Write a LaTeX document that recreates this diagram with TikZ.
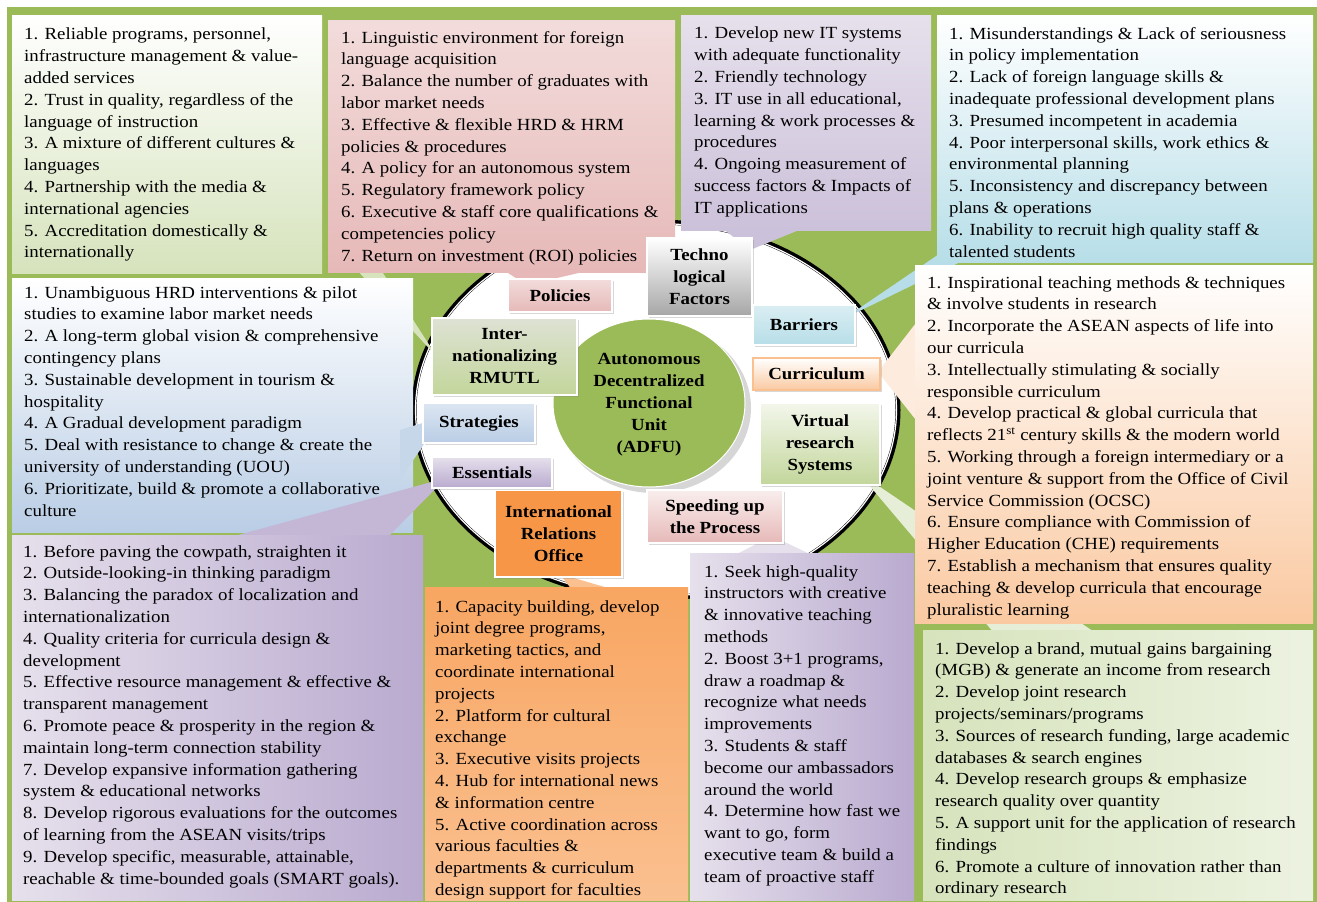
\documentclass[tikz,border=0pt]{standalone}
\usepackage{fontspec}
\setmainfont{Liberation Serif}[FakeStretch=1.11]
\usetikzlibrary{shadows}

\definecolor{bggreen}{HTML}{9BBB59}
\definecolor{grnlt}{HTML}{D6E3BC}
\definecolor{grnmd}{HTML}{C3D69B}
\definecolor{pinktop}{HTML}{F2DCDB}
\definecolor{pinklt}{HTML}{E6B9B8}
\definecolor{purtop}{HTML}{E6E0EC}
\definecolor{purlt}{HTML}{CCC1DA}
\definecolor{purdk}{HTML}{B9AACF}
\definecolor{cyanlt}{HTML}{B7DEE8}
\definecolor{cyantop}{HTML}{DAEEF3}
\definecolor{bluelt}{HTML}{B9CDE5}
\definecolor{bluetop}{HTML}{DCE6F2}
\definecolor{peach}{HTML}{FAC9A1}
\definecolor{orng}{HTML}{F79646}
\definecolor{orlt}{HTML}{FAC090}
\definecolor{graylt}{HTML}{A6A6A6}

\tikzset{
	txt/.style={anchor=north west, inner sep=0pt, align=left, font=\fontsize{17}{21.8}\selectfont},
	lbl/.style={draw=white, line width=1.2pt, inner sep=0pt, align=center,
		font=\fontsize{17}{22}\selectfont\bfseries,
		drop shadow={opacity=0.3, shadow xshift=2pt, shadow yshift=-2pt}},
}

\begin{document}
\begin{tikzpicture}[x=1pt, y=-1pt]
			%%%%% START %%%%%
			\useasboundingbox (0, 0) rectangle (1317, 902);
			\fill[bggreen] (7, 7) rectangle (1317, 902);
			
			% ring and core
			\fill[white] (656, 410) ellipse [x radius=242, y radius=188];
			\draw[line width=5pt] (656, 410) ellipse [x radius=242, y radius=188];
			\draw[white, line width=1.2pt] (656, 410) ellipse [x radius=240.5, y radius=186.5];
			\fill[gray!45, opacity=0.7] (654, 408) ellipse [x radius=97, y radius=85];
			\draw[fill=bggreen, draw=white, line width=1pt] (649, 403) ellipse [x radius=96, y radius=84];
			\node[align=center, font=\fontsize{17}{22}\selectfont\bfseries] (adfu) at (649, 405)
				{Autonomous\\Decentralized\\Functional\\Unit\\(ADFU)};
			
			% top row
			\fill[grnlt] (344, 256) -- (372, 256) -- (437, 357) -- cycle;
			\fill[top color=white, bottom color=grnlt] (12, 15) rectangle (322, 273);
			\node[txt] (intlist) at (24, 28) {1. Reliable programs, personnel,\\infrastructure management \& value-\\added services\\2. Trust in quality, regardless of the\\language of instruction\\3. A mixture of different cultures \&\\languages\\4. Partnership with the media \&\\international agencies\\5. Accreditation domestically \&\\internationally};
			
			\fill[pinklt] (500, 268) -- (600, 268) -- (527, 285) -- cycle;
			\fill[top color=pinktop, bottom color=pinklt] (328, 20) rectangle (675, 272);
			\node[txt] (pollist) at (341, 31) {1. Linguistic environment for foreign\\language acquisition\\2. Balance the number of graduates with\\labor market needs\\3. Effective \& flexible HRD \& HRM\\policies \& procedures\\4. A policy for an autonomous system\\5. Regulatory framework policy\\6. Executive \& staff core qualifications \&\\competencies policy\\7. Return on investment (ROI) policies};
			
			\fill[purlt] (722, 228) -- (804, 228) -- (750, 250) -- cycle;
			\fill[top color=purtop, bottom color=purlt] (681, 15) rectangle (931, 230);
			\node[txt] (techlist) at (694, 27) {1. Develop new IT systems\\with adequate functionality\\2. Friendly technology\\3. IT use in all educational,\\learning \& work processes \&\\procedures\\4. Ongoing measurement of\\success factors \& Impacts of\\IT applications};
			
			\fill[cyanlt] (945, 250) -- (985, 250) -- (845, 318) -- cycle;
			\fill[top color=white, bottom color=cyanlt] (937, 15) rectangle (1313, 262);
			\node[txt] (barrlist) at (949, 27) {1. Misunderstandings \& Lack of seriousness\\in policy implementation\\2. Lack of foreign language skills \&\\inadequate professional development plans\\3. Presumed incompetent in academia\\4. Poor interpersonal skills, work ethics \&\\environmental planning\\5. Inconsistency and discrepancy between\\plans \& operations\\6. Inability to recruit high quality staff \&\\talented students};
			
			% right column
			\fill[grnlt!60] (1000, 640) -- (1106, 640) -- (858, 472) -- cycle;
			\fill[left color=grnlt, right color=grnlt!45] (923, 630) rectangle (1313, 900);
			\node[txt] (virtlist) at (935, 642) {1. Develop a brand, mutual gains bargaining\\(MGB) \& generate an income from research\\2. Develop joint research\\projects/seminars/programs\\3. Sources of research funding, large academic\\databases \& search engines\\4. Develop research groups \& emphasize\\research quality over quantity\\5. A support unit for the application of research\\findings\\6. Promote a culture of innovation rather than\\ordinary research};
			
			\fill[peach!35] (916, 323) -- (916, 420) -- (878, 372) -- cycle;
			\fill[top color=white, bottom color=peach] (915, 265) rectangle (1313, 623);
			\node[txt] (currlist) at (927, 276) {1. Inspirational teaching methods \& techniques\\\& involve students in research\\2. Incorporate the ASEAN aspects of life into\\our curricula\\3. Intellectually stimulating \& socially\\responsible curriculum\\4. Develop practical \& global curricula that\\reflects 21\textsuperscript{st} century skills \& the modern world\\5. Working through a foreign intermediary or a\\joint venture \& support from the Office of Civil\\Service Commission (OCSC)\\6. Ensure compliance with Commission of\\Higher Education (CHE) requirements\\7. Establish a mechanism that ensures quality\\teaching \& develop curricula that encourage\\pluralistic learning};
			
			% left column
			\fill[top color=white, bottom color=bluelt] (12, 278) rectangle (413, 532);
			\fill[bluelt!80] (400, 430) -- (400, 480) -- (442, 417) -- cycle;
			\node[txt] (stratlist) at (24, 286) {1. Unambiguous HRD interventions \& pilot\\studies to examine labor market needs\\2. A long-term global vision \& comprehensive\\contingency plans\\3. Sustainable development in tourism \&\\hospitality\\4. A Gradual development paradigm\\5. Deal with resistance to change \& create the\\university of understanding (UOU)\\6. Prioritizate, build \& promote a collaborative\\culture};
			
			\fill[purdk!85] (220, 540) -- (385, 540) -- (446, 478) -- cycle;
			\fill[left color=purtop, right color=purdk] (12, 535) rectangle (423, 900);
			\node[txt] (esslist) at (23, 545) {1. Before paving the cowpath, straighten it\\2. Outside-looking-in thinking paradigm\\3. Balancing the paradox of localization and\\internationalization\\4. Quality criteria for curricula design \&\\development\\5. Effective resource management \& effective \&\\transparent management\\6. Promote peace \& prosperity in the region \&\\maintain long-term connection stability\\7. Develop expansive information gathering\\system \& educational networks\\8. Develop rigorous evaluations for the outcomes\\of learning from the ASEAN visits/trips\\9. Develop specific, measurable, attainable,\\reachable \& time-bounded goals (SMART goals).};
			
			% bottom middle
			\fill[orlt] (572, 590) -- (615, 590) -- (560, 574) -- cycle;
			\fill[top color=orng!85, bottom color=orlt] (425, 587) rectangle (688, 900);
			\node[txt] (irolist) at (435, 600) {1. Capacity building, develop\\joint degree programs,\\marketing tactics, and\\coordinate international\\projects\\2. Platform for cultural\\exchange\\3. Executive visits projects\\4. Hub for international news\\\& information centre\\5. Active coordination across\\various faculties \&\\departments \& curriculum\\design support for faculties};
			
			\fill[purtop] (733, 556) -- (814, 556) -- (772, 536) -- cycle;
			\fill[left color=purtop, right color=purdk] (690, 553) rectangle (914, 900);
			\node[txt] (speedlist) at (704, 565) {1. Seek high-quality\\instructors with creative\\\& innovative teaching\\methods\\2. Boost 3+1 programs,\\draw a roadmap \&\\recognize what needs\\improvements\\3. Students \& staff\\become our ambassadors\\around the world\\4. Determine how fast we\\want to go, form\\executive team \& build a\\team of proactive staff};
			
			% labels round the ring
			\node[lbl, top color=purtop!50!grnlt, bottom color=grnmd, minimum width=145, minimum height=77] (inter) at (504.5, 356.5) {Inter-\\nationalizing\\RMUTL};
			\node[lbl, top color=pinktop, bottom color=pinklt, minimum width=104, minimum height=33] (pol) at (560, 295.5) {Policies};
			\node[lbl, top color=white, bottom color=graylt, minimum width=105, minimum height=78] (tech) at (699.5, 277) {Techno\\logical\\Factors};
			\node[lbl, top color=cyantop, bottom color=cyanlt, minimum width=102, minimum height=40] (barr) at (804, 325) {Barriers};
			\node[lbl, draw=orlt, top color=white, bottom color=peach, minimum width=127, minimum height=32] (curr) at (816.5, 374) {Curriculum};
			\node[lbl, top color=white!70!grnlt, bottom color=grnmd, minimum width=120, minimum height=82] (virt) at (820, 444) {Virtual\\research\\Systems};
			\node[lbl, top color=white!50!pinktop, bottom color=pinklt, minimum width=136, minimum height=53] (speed) at (715, 516.5) {Speeding up\\the Process};
			\node[lbl, fill=orng, minimum width=127, minimum height=87] (iro) at (558.5, 533.5) {International\\Relations\\Office};
			\node[lbl, top color=purtop, bottom color=purdk, minimum width=120, minimum height=31] (ess) at (492, 472.5) {Essentials};
			\node[lbl, top color=bluetop, bottom color=bluelt, minimum width=112, minimum height=40] (strat) at (479, 423) {Strategies};
			
			%%%%% END %%%%%
\end{tikzpicture}
\end{document}
